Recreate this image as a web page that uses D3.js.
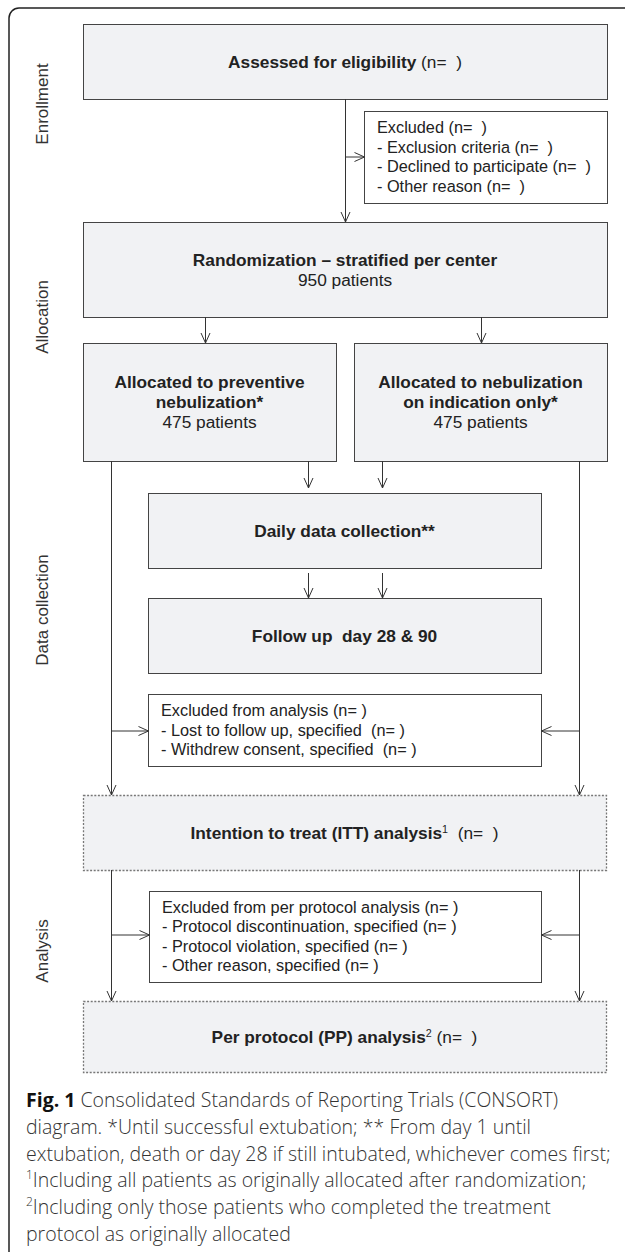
<!DOCTYPE html>
<html>
<head>
<meta charset="utf-8">
<script src="https://cdn.jsdelivr.net/npm/d3@7/dist/d3.min.js"></script>
<style>
  body { margin: 0; background: #fff; }
  svg text { font-family: "Liberation Sans", Arial, Helvetica, sans-serif; fill: #222; white-space: pre; }
  .caption text { font-family: "Open Sans", "Noto Sans", sans-serif; fill: #333; }
</style>
</head>
<body>
<div id="chart"></div>
<script>
// ---- data ----
const stageLabels = ["Enrollment", "Allocation", "Data collection", "Analysis"];

const patientCounts = [950, 475, 475];

// main (grey) boxes; each line is a list of [text, style] segments
const mainBoxes = [
  {id: "assessed", lines: [[["Assessed for eligibility", "b"], [" (n=  )", "n"]]]},
  {id: "random", lines: [[["Randomization \u2013 stratified per center", "b"]], [[patientCounts[0] + " patients", "n"]]]},
  {id: "allocA", lines: [[["Allocated to preventive", "b"]], [["nebulization*", "b"]], [[patientCounts[1] + " patients", "n"]]]},
  {id: "allocB", lines: [[["Allocated to nebulization", "b"]], [["on indication only*", "b"]], [[patientCounts[2] + " patients", "n"]]]},
  {id: "daily", lines: [[["Daily data collection**", "b"]]]},
  {id: "follow", lines: [[["Follow up  day 28 & 90", "b"]]]},
  {id: "itt", dotted: true, lines: [[["Intention to treat (ITT) analysis", "b"], ["1", "sup"], ["  (n=  )", "n"]]]},
  {id: "pp", dotted: true, lines: [[["Per protocol (PP) analysis", "b"], ["2", "sup"], [" (n=  )", "n"]]]}
];

// white exclusion boxes, left aligned lists
const exclusionBoxes = [
  {id: "excluded", lines: ["Excluded (n=  )", "- Exclusion criteria (n=  )", "- Declined to participate (n=  )", "- Other reason (n=  )"]},
  {id: "exclAnalysis", lines: ["Excluded from analysis (n= )", "- Lost to follow up, specified  (n= )", "- Withdrew consent, specified  (n= )"]},
  {id: "exclPP", lines: ["Excluded from per protocol analysis (n= )", "- Protocol discontinuation, specified (n= )", "- Protocol violation, specified (n= )", "- Other reason, specified (n= )"]}
];

const captionLines = [
  [["Fig. 1", "b"], [" Consolidated Standards of Reporting Trials (CONSORT)", "n"]],
  [["diagram. *Until successful extubation; ** From day 1 until", "n"]],
  [["extubation, death or day 28 if still intubated, whichever comes first;", "n"]],
  [["1", "sup"], ["Including all patients as originally allocated after randomization;", "n"]],
  [["2", "sup"], ["Including only those patients who completed the treatment", "n"]],
  [["protocol as originally allocated", "n"]]
];

// ---- layout ----
const W = 627, H = 1252;
const layout = {
  assessed:     {x0: 83,  x1: 607, y0: 24,  y1: 99},
  excluded:     {x0: 364, x1: 607, y0: 111, y1: 203},
  random:       {x0: 83,  x1: 607, y0: 222, y1: 317},
  allocA:       {x0: 83,  x1: 336, y0: 343, y1: 461},
  allocB:       {x0: 354, x1: 607, y0: 343, y1: 461},
  daily:        {x0: 148, x1: 541, y0: 493, y1: 568},
  follow:       {x0: 148, x1: 541, y0: 598, y1: 673},
  exclAnalysis: {x0: 148, x1: 541, y0: 694, y1: 766},
  itt:          {x0: 83,  x1: 606, y0: 795, y1: 870},
  exclPP:       {x0: 149, x1: 541, y0: 891, y1: 982},
  pp:           {x0: 83,  x1: 606, y0: 1001, y1: 1072}
};
const stageY = [104, 317, 610, 951];
const lineGap = 20;

const svg = d3.select("#chart").append("svg")
  .attr("width", W).attr("height", H);

// outer frame: rounded top-left corner, open at right and bottom
svg.append("path")
  .attr("d", "M625,8 H19 A10,10 0 0 0 9,18 V1252")
  .attr("fill", "none").attr("stroke", "#222").attr("stroke-width", 1.5);

// stage labels
svg.selectAll(".stage")
  .data(stageLabels)
  .join("text")
  .attr("class", "stage")
  .attr("transform", (d, i) => `translate(42,${stageY[i]}) rotate(-90)`)
  .attr("text-anchor", "middle")
  .attr("dy", "0.35em")
  .style("font-size", "17px")
  .style("fill", "#333")
  .text(d => d);

function addSegments(textSel, segs, size) {
  segs.forEach(([t, s]) => {
    const ts = textSel.append("tspan").text(t);
    if (s === "b") ts.style("font-weight", "bold");
    if (s === "sup") ts.attr("baseline-shift", "super").style("font-size", (size * 0.62) + "px");
  });
}

// grey boxes
const mb = svg.selectAll(".main-box")
  .data(mainBoxes)
  .join("g")
  .attr("class", "main-box");

mb.append("rect")
  .attr("x", d => layout[d.id].x0 + 0.5)
  .attr("y", d => layout[d.id].y0 + 0.5)
  .attr("width", d => layout[d.id].x1 - layout[d.id].x0)
  .attr("height", d => layout[d.id].y1 - layout[d.id].y0)
  .attr("fill", "#f1f2f4")
  .attr("stroke", d => d.dotted ? "#777" : "#444")
  .attr("stroke-width", d => d.dotted ? 1.3 : 1)
  .attr("stroke-dasharray", d => d.dotted ? "2,1.6" : null);

mb.each(function(d) {
  const b = layout[d.id];
  const cx = (b.x0 + b.x1) / 2;
  const cy = (b.y0 + b.y1) / 2;
  const n = d.lines.length;
  d.lines.forEach((segs, i) => {
    const t = d3.select(this).append("text")
      .attr("x", cx)
      .attr("y", cy + (i - (n - 1) / 2) * lineGap)
      .attr("dy", "0.35em")
      .attr("text-anchor", "middle")
      .style("font-size", "17.3px");
    addSegments(t, segs, 17.3);
  });
});

// exclusion boxes
const eb = svg.selectAll(".excl-box")
  .data(exclusionBoxes)
  .join("g")
  .attr("class", "excl-box");

eb.append("rect")
  .attr("x", d => layout[d.id].x0 + 0.5)
  .attr("y", d => layout[d.id].y0 + 0.5)
  .attr("width", d => layout[d.id].x1 - layout[d.id].x0)
  .attr("height", d => layout[d.id].y1 - layout[d.id].y0)
  .attr("fill", "#fff")
  .attr("stroke", "#444");

eb.each(function(d) {
  const b = layout[d.id];
  const cy = (b.y0 + b.y1) / 2;
  const n = d.lines.length;
  d3.select(this).selectAll("text")
    .data(d.lines)
    .join("text")
    .attr("x", b.x0 + 13)
    .attr("y", (t, i) => cy + (i - (n - 1) / 2) * 19.5)
    .attr("dy", "0.35em")
    .style("font-size", "16.3px")
    .text(t => t);
});

// connectors
const L = layout;
const xLeft = 111, xRight = 579;
const links = [
  // [x1, y1, x2, y2, arrowAtEnd]
  [345, L.assessed.y1, 345, L.random.y0, true],
  [345, 157, L.excluded.x0, 157, true],
  [205, L.random.y1, 205, L.allocA.y0, true],
  [481, L.random.y1, 481, L.allocB.y0, true],
  [308, L.allocA.y1, 308, L.daily.y0 - 5, true],
  [382, L.allocB.y1, 382, L.daily.y0 - 5, true],
  [308, L.daily.y1 + 5, 308, L.follow.y0, true],
  [382, L.daily.y1 + 5, 382, L.follow.y0, true],
  [xLeft, L.allocA.y1, xLeft, L.itt.y0, true],
  [xRight, L.allocB.y1, xRight, L.itt.y0, true],
  [xLeft, 731, L.exclAnalysis.x0, 731, true],
  [xRight, 731, L.exclAnalysis.x1, 731, true],
  [xLeft, L.itt.y1, xLeft, L.pp.y0, true],
  [xRight, L.itt.y1, xRight, L.pp.y0, true],
  [xLeft, 935, L.exclPP.x0, 935, true],
  [xRight, 935, L.exclPP.x1, 935, true]
];

const linkG = svg.append("g")
  .attr("fill", "none").attr("stroke", "#333").attr("stroke-width", 1);

linkG.selectAll("line")
  .data(links)
  .join("line")
  .attr("x1", d => d[0] + 0.5).attr("y1", d => d[1])
  .attr("x2", d => d[2] + 0.5).attr("y2", d => d[3]);

// open V arrowheads
linkG.selectAll("path")
  .data(links.filter(d => d[4]))
  .join("path")
  .attr("d", d => {
    const ang = Math.atan2(d[3] - d[1], d[2] - d[0]);
    const len = 10, half = 4.5;
    const tx = d[2] + 0.5, ty = d[3];
    const bx = tx - len * Math.cos(ang), by = ty - len * Math.sin(ang);
    const px = -Math.sin(ang) * half, py = Math.cos(ang) * half;
    return `M${bx + px},${by + py} L${tx},${ty} L${bx - px},${by - py}`;
  });

// caption
const cap = svg.append("g").attr("class", "caption");
captionLines.forEach((segs, i) => {
  const t = cap.append("text")
    .attr("x", 26)
    .attr("y", 1107 + i * 26.8)
    .style("font-size", "19.5px")
    .style("font-weight", 300);
  segs.forEach(([s, k]) => {
    const ts = t.append("tspan").text(s);
    if (k === "b") ts.style("font-weight", "bold").style("fill", "#111");
    if (k === "sup") ts.attr("baseline-shift", "super").style("font-size", "12px");
  });
});
</script>
</body>
</html>
